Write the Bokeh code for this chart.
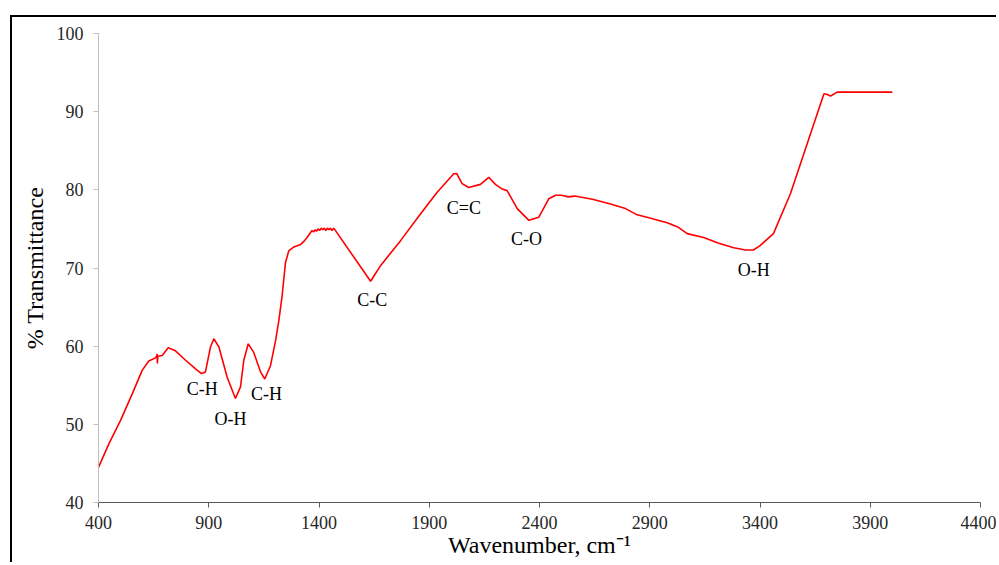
from bokeh.plotting import figure
from bokeh.models import Range1d, FixedTicker, ColumnDataSource
from bokeh.core.properties import value
from bokeh.embed import file_html
from bokeh.resources import INLINE

# ---- data ----
wavenumber = [400, 447, 500, 553, 598, 628, 658, 664, 666, 667, 669, 689, 716, 749, 795, 840, 867, 885,
              908, 923, 946, 984, 1021, 1044, 1059, 1079, 1104, 1135, 1154, 1180, 1203, 1218, 1233,
              1248, 1263, 1286, 1316, 1331, 1346, 1361, 1368, 1375, 1382, 1389, 1396, 1403, 1410,
              1417, 1424, 1431, 1438, 1445, 1452, 1459, 1467, 1634, 1679, 1770, 1860, 1936, 2011,
              2024, 2049, 2079, 2132, 2170, 2200, 2231, 2253, 2299, 2352, 2397, 2442, 2473, 2500,
              2530, 2560, 2640, 2722, 2790, 2843, 2900, 2979, 3030, 3070, 3144, 3210, 3281, 3334,
              3370, 3402, 3461, 3538, 3614, 3690, 3705, 3720, 3750, 3800, 4000]
transmittance = [44.5, 47.5, 50.5, 53.9, 56.9, 58.1, 58.5, 58.7, 59.0, 57.8, 58.7, 58.8, 59.8, 59.4,
                 58.2, 57.1, 56.5, 56.7, 59.9, 60.95, 59.9, 56.0, 53.3, 54.8, 58.2, 60.3, 59.2, 56.7,
                 55.8, 57.5, 60.7, 63.3, 66.5, 70.7, 72.2, 72.7, 73.0, 73.4, 73.9, 74.5, 74.8, 74.6,
                 74.9, 74.7, 75.0, 74.8, 75.1, 74.9, 75.1, 74.8, 75.1, 74.9, 75.1, 74.8, 75.1, 68.3,
                 70.3, 73.5, 76.9, 79.7, 82.05, 82.1, 80.8, 80.3, 80.7, 81.6, 80.7, 80.1, 79.9, 77.6,
                 76.1, 76.5, 78.85, 79.3, 79.3, 79.1, 79.2, 78.8, 78.2, 77.6, 76.8, 76.4, 75.8, 75.2,
                 74.4, 73.9, 73.2, 72.6, 72.3, 72.3, 72.9, 74.4, 79.5, 85.9, 92.3, 92.2, 92.0, 92.5,
                 92.5, 92.5]

band_labels = ["C-H", "O-H", "C-H", "C-C", "C=C", "C-O", "O-H"]
band_x = [870, 999, 1162, 1641, 2057, 2341, 3372]
band_y = [54.55, 50.7, 53.9, 65.9, 77.7, 73.7, 69.8]

x_ticks = [400, 900, 1400, 1900, 2400, 2900, 3400, 3900, 4400]
y_ticks = [40, 50, 60, 70, 80, 90, 100]

FONT = "Liberation Serif"

p = figure(width=986, height=547, output_backend="svg", toolbar_location=None,
           x_range=Range1d(400, 4400), y_range=Range1d(40, 100),
           min_border_left=86, min_border_right=18, min_border_top=16, min_border_bottom=62)
p.margin = (15, 0, 0, 10)
p.styles = {"border-left": "2.5px solid black", "border-top": "2.5px solid black"}
p.background_fill_color = "white"
p.border_fill_color = "white"
p.outline_line_color = None
p.grid.grid_line_color = None

p.line(wavenumber, transmittance, line_color="#ff0000", line_width=1.6)

src = ColumnDataSource(dict(x=band_x, y=band_y, t=band_labels))
p.text(x="x", y="y", text="t", source=src, text_font=value(FONT), text_font_size="18px",
       text_color="black", text_align="center", text_baseline="middle")

# axes
p.xaxis.ticker = FixedTicker(ticks=x_ticks)
p.yaxis.ticker = FixedTicker(ticks=y_ticks)
for ax in (p.xaxis[0], p.yaxis[0]):
    ax.major_label_text_font = FONT
    ax.major_label_text_font_size = "18px"
    ax.major_label_text_color = "#262626"
    ax.minor_tick_line_color = None
    ax.major_tick_in = 0
    ax.major_tick_out = 5
    ax.axis_label_text_font = FONT
    ax.axis_label_text_font_size = "24px"
    ax.axis_label_text_font_style = "normal"
    ax.axis_label_text_color = "black"
p.xaxis.axis_line_color = "#595959"
p.xaxis.major_tick_line_color = "#595959"
p.xaxis.major_label_standoff = 8
p.xaxis.axis_label = "Wavenumber, cm\u207b\u00b9"
p.xaxis.axis_label_standoff = 0
p.yaxis.axis_line_color = "#bfbfbf"
p.yaxis.major_tick_line_color = "#bfbfbf"
p.yaxis.major_label_standoff = 10
p.yaxis.axis_label = "% Transmittance"
p.yaxis.axis_label_standoff = 6

open("out.html", "w").write(file_html(p, INLINE))
